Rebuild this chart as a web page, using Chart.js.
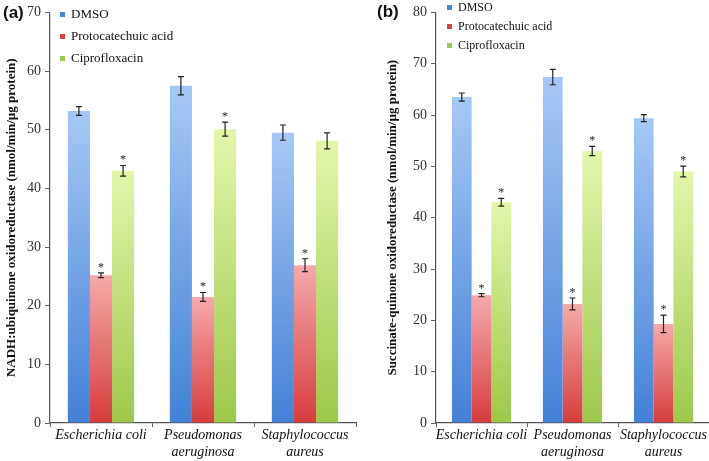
<!DOCTYPE html>
<html>
<head>
<meta charset="utf-8">
<script src="https://cdn.jsdelivr.net/npm/chart.js@4.4.0/dist/chart.umd.min.js"></script>
<style>
  body { margin: 0; background: #fff; width: 709px; height: 461px; position: relative; overflow: hidden; }
  .panel { position: absolute; top: 0; height: 461px; }
  #wrapA { left: 0; width: 360px; }
  #wrapB { left: 355px; width: 354px; }
  .tag { position: absolute; font-family: "Liberation Sans", Arial, sans-serif; font-weight: bold; font-size: 17px; color: #111; }
  .legend { position: absolute; font-family: "Liberation Serif", "Times New Roman", serif; color: #111; }
  .legend div { position: absolute; white-space: nowrap; }
  .legend span { display: inline-block; width: 5px; height: 5px; margin-right: 6px; vertical-align: middle; position: relative; top: -1px; }
</style>
</head>
<body>
<div class="panel" id="wrapA"><canvas id="chartA"></canvas></div>
<div class="panel" id="wrapB"><canvas id="chartB"></canvas></div>
<div class="tag" style="left:3px;top:3px;">(a)</div>
<div class="tag" style="left:377px;top:2px;">(b)</div>
<div class="legend" id="legA" style="left:60px;top:0;font-size:13px;"></div>
<div class="legend" id="legB" style="left:447px;top:0;font-size:12px;"></div>
<script>
// data
const categories = [["Escherichia coli"], ["Pseudomonas", "aeruginosa"], ["Staphylococcus", "aureus"]];
const seriesNames = ["DMSO", "Protocatechuic acid", "Ciprofloxacin"];

// panel (a) NADH:ubiquinone oxidoreductase
const nadhDmso = [53.2, 57.5, 49.5];
const nadhProto = [25.2, 21.5, 26.9];
const nadhCipro = [43.0, 50.1, 48.1];
const nadhDmsoErr = [0.75, 1.55, 1.3];
const nadhProtoErr = [0.4, 0.75, 1.1];
const nadhCiproErr = [0.9, 1.2, 1.35];
const nadhStar = [[false, false, false], [true, true, true], [true, true, false]];

// panel (b) Succinate-quinone oxidoreductase
const sqrDmso = [63.5, 67.4, 59.4];
const sqrProto = [24.9, 23.2, 19.3];
const sqrCipro = [43.0, 53.0, 49.0];
const sqrDmsoErr = [0.8, 1.5, 0.7];
const sqrProtoErr = [0.3, 1.15, 1.7];
const sqrCiproErr = [0.75, 0.9, 1.05];
const sqrStar = [[false, false, false], [true, true, true], [true, true, true]];

const ticksA = [0, 10, 20, 30, 40, 50, 60, 70];
const ticksB = [0, 10, 20, 30, 40, 50, 60, 70, 80];

// colours: [top, bottom] of the bar gradient
const shades = [["#a6c8f6", "#4381d6"], ["#f6a9a9", "#d73c3c"], ["#e3f6ab", "#9dc84b"]];
const markColors = ["#4a86d8", "#d84444", "#9fcb4e"];

function gradientFill(i) {
  return function (ctx) {
    const chart = ctx.chart;
    const y = chart.scales.y;
    if (!chart.chartArea || !y || ctx.parsed === undefined) return shades[i][1];
    const top = y.getPixelForValue(ctx.parsed.y);
    const bottom = y.getPixelForValue(0);
    const g = chart.ctx.createLinearGradient(0, top, 0, bottom);
    g.addColorStop(0, shades[i][0]);
    g.addColorStop(1, shades[i][1]);
    return g;
  };
}

// error bars and asterisks
const errorBars = {
  id: "errorBars",
  afterDatasetsDraw(chart, args, opts) {
    const ctx = chart.ctx;
    const y = chart.scales.y;
    ctx.save();
    ctx.strokeStyle = "#222";
    ctx.lineWidth = 1.2;
    ctx.fillStyle = "#222";
    ctx.font = "12px 'Liberation Serif'";
    ctx.textAlign = "center";
    chart.data.datasets.forEach((ds, di) => {
      const meta = chart.getDatasetMeta(di);
      meta.data.forEach((bar, k) => {
        const v = ds.data[k];
        const e = opts.errors[di][k];
        const x = bar.x;
        const yHi = y.getPixelForValue(v + e);
        const yLo = y.getPixelForValue(v - e);
        ctx.beginPath();
        ctx.moveTo(x, yHi); ctx.lineTo(x, yLo);
        ctx.moveTo(x - 3, yHi); ctx.lineTo(x + 3, yHi);
        ctx.moveTo(x - 3, yLo); ctx.lineTo(x + 3, yLo);
        ctx.stroke();
        if (opts.stars[di][k]) {
          ctx.fillText("*", x, yHi - 2);
        }
      });
    });
    ctx.restore();
  }
};

function makeChart(id, width, vals, errs, stars, ticks, max, title, pad) {
  const canvas = document.getElementById(id);
  canvas.width = width;
  canvas.height = 461;
  return new Chart(canvas, {
    type: "bar",
    data: {
      labels: categories,
      datasets: vals.map((d, i) => ({
        label: seriesNames[i],
        data: d,
        backgroundColor: gradientFill(i),
        borderWidth: 0,
        categoryPercentage: 0.65,
        barPercentage: 1.0
      }))
    },
    options: {
      responsive: false,
      animation: false,
      layout: { padding: { top: pad.top, right: pad.right, left: 0, bottom: 0 } },
      plugins: {
        legend: { display: false },
        tooltip: { enabled: false },
        errorBars: { errors: errs, stars: stars }
      },
      scales: {
        x: {
          grid: { offset: true, drawOnChartArea: false, tickLength: 4, color: "#666" },
          border: { color: "#555", width: 1.2 },
          ticks: {
            color: "#111",
            font: { family: "Liberation Serif", size: 14, style: "italic", lineHeight: 1.2 },
            maxRotation: 0,
            autoSkip: false,
            padding: 0
          },
          afterFit(s) { s.height = 38; }
        },
        y: {
          min: 0,
          max: max,
          afterBuildTicks(s) { s.ticks = ticks.map((v) => ({ value: v })); },
          grid: { drawOnChartArea: false, tickLength: 5, color: "#666" },
          border: { color: "#555", width: 1.2 },
          ticks: {
            color: "#333",
            font: { family: "Liberation Serif", size: 14 },
            padding: 4
          },
          title: {
            display: true,
            text: title,
            color: "#111",
            font: { family: "Liberation Serif", size: 13, weight: "bold" },
            padding: { top: pad.title, bottom: 0 }
          },
          afterFit(s) { s.width = pad.left; }
        }
      }
    },
    plugins: [errorBars]
  });
}

makeChart("chartA", 360,
  [nadhDmso, nadhProto, nadhCipro],
  [nadhDmsoErr, nadhProtoErr, nadhCiproErr],
  nadhStar, ticksA, 70,
  "NADH:ubiquinone oxidoreductase (nmol/min/µg protein)",
  { top: 12, right: 4, left: 50, title: 4 });

makeChart("chartB", 354,
  [sqrDmso, sqrProto, sqrCipro],
  [sqrDmsoErr, sqrProtoErr, sqrCiproErr],
  sqrStar, ticksB, 80,
  "Succinate-quinone oxidoreductase (nmol/min/µg protein)",
  { top: 5, right: 0, left: 81, title: 30 });

// legends as text
function buildLegend(id, ys) {
  const box = document.getElementById(id);
  seriesNames.forEach((name, i) => {
    const row = document.createElement("div");
    row.style.top = ys[i] + "px";
    row.innerHTML = '<span style="background:' + markColors[i] + '"></span>' + name;
    box.appendChild(row);
  });
}
buildLegend("legA", [6, 28, 50]);
buildLegend("legB", [0, 19, 38]);
</script>
</body>
</html>
